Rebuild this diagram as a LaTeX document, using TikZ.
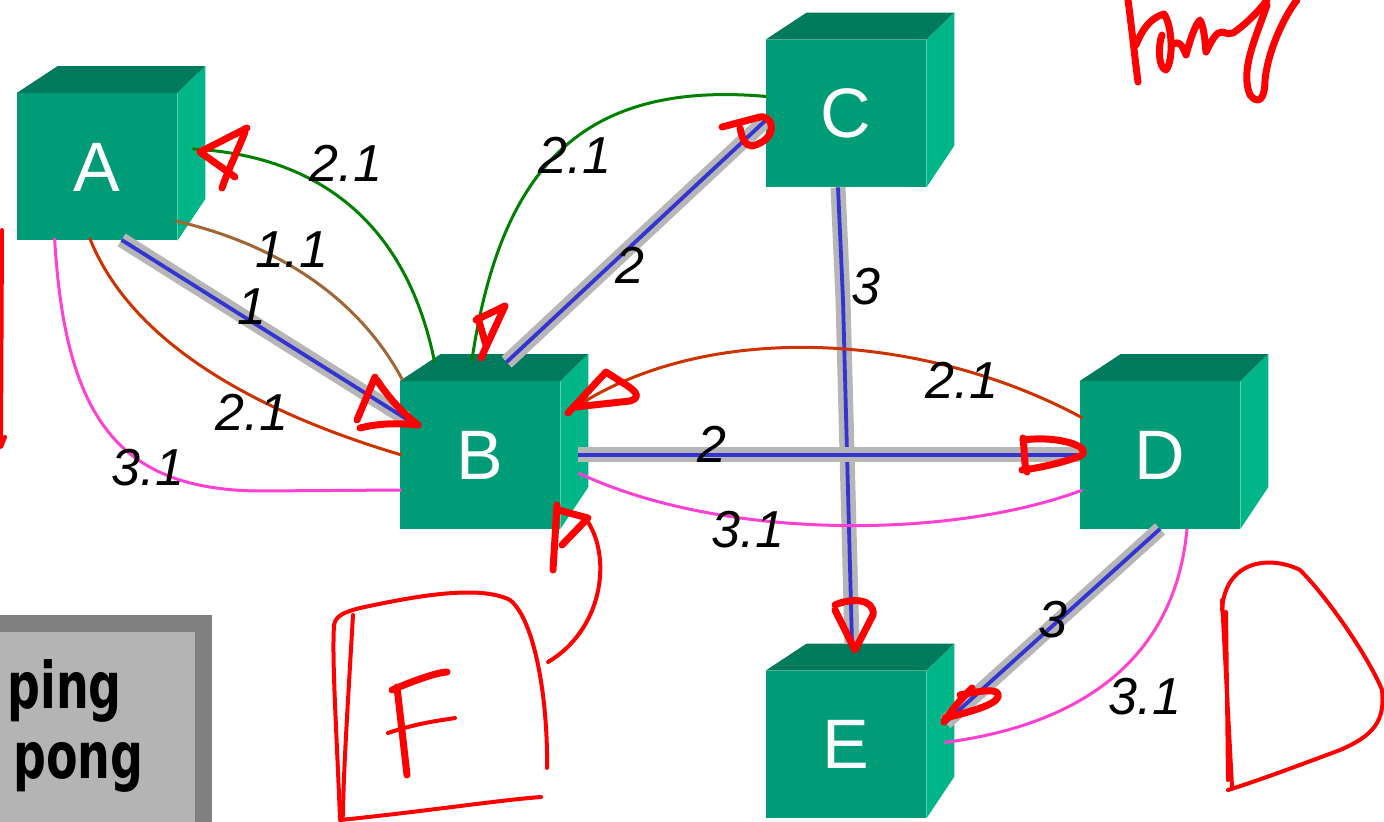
\documentclass[tikz,border=0pt]{standalone}
\usepackage{fontspec}
\setmainfont{Liberation Sans}
\newfontfamily\djv{DejaVu Sans}
\usetikzlibrary{calc}
\definecolor{cubefront}{RGB}{0,155,119}
\definecolor{cubetop}{RGB}{0,122,92}
\definecolor{cuberight}{RGB}{0,181,136}
\definecolor{halogray}{RGB}{182,182,182}
\definecolor{linkblue}{RGB}{52,52,210}
\definecolor{linkgreen}{RGB}{0,128,0}
\definecolor{linkbrown}{RGB}{160,102,52}
\definecolor{linkorange}{RGB}{204,51,0}
\definecolor{linkpink}{RGB}{255,64,210}
\definecolor{boxdark}{RGB}{128,128,128}
\definecolor{boxlight}{RGB}{180,180,180}
\definecolor{pen}{RGB}{255,0,0}
\newcommand{\cubefaces}[1]{%
  \fill[cubetop] (#1.north west) -- ($(#1.north west)+(41,-27)$) -- ($(#1.north east)+(28,-27)$) -- (#1.north east) -- cycle;
  \fill[cuberight] (#1.north east) -- ($(#1.north east)+(28,-27)$) -- ($(#1.south east)+(28,-42)$) -- (#1.south east) -- cycle;}
\begin{document}
\begin{tikzpicture}[x=0.5pt,y=-0.5pt,
  cube/.style={rectangle, fill=cubefront, minimum width=80pt, minimum height=73.5pt, inner sep=0pt, text=white, font=\fontsize{35}{35}\selectfont},
  lbl/.style={inner sep=0pt, font=\fontsize{26}{26}\selectfont\itshape},
  bluelink/.style={draw=linkblue, line width=1.9pt, preaction={draw=halogray, line width=7.5pt}},
  thin/.style={line width=1.5pt},
  redpen/.style={draw=pen, line width=3.5pt, line cap=round, line join=round},
  redthin/.style={draw=pen, line width=2pt, line cap=round, line join=round},
  pp/.style={inner sep=0pt, anchor=base west, font=\djv\bfseries\fontsize{23}{23}\selectfont}]
\useasboundingbox (0,0) rectangle (1384,822);
\fill[white] (0,0) rectangle (1384,822);

% legend box
\fill[boxdark] (0,615) rectangle (212,822);
\fill[boxlight] (0,632) rectangle (195,822);
\node[pp] (ping) at (7,708) {\scalebox{1}[1.4]{ping}};
\node[pp] (pong) at (13,778) {\scalebox{1}[1.4]{pong}};

% cubes
\node[cube] (A) at (97,167) {A};
\node[cube] (B) at (480,455) {B};
\node[cube] (C) at (846,113.5) {C};
\node[cube] (D) at (1160,455) {D};
\node[cube] (E) at (846,744.5) {E};
\cubefaces{A}\cubefaces{B}\cubefaces{C}\cubefaces{D}\cubefaces{E}

% blue links
\draw[bluelink] ($(A.south west)+(105,-1)$) -- ($(B.north west)+(7,38)$);
\draw[bluelink] ($(B.north west)+(107,-19)$) -- ($(C.west)+(2,5)$);
\draw[bluelink] ($(C.south)+(-8,0)$) -- (843,300) -- ($(E.north)+(6,-27)$);
\draw[bluelink] ($(B.east)+(18,0)$) -- (D.west);
\draw[bluelink] (D.south) -- ($(E.east)+(19,-22)$);

% thin links
\draw[linkgreen,thin] ($(A.east)+(15,-18)$) .. controls (310,155) and (405,215) .. ($(B.north west)+(35,-19)$);
\draw[linkgreen,thin] ($(C.west)+(1,-17)$) .. controls (580,80) and (500,170) .. ($(B.north west)+(72,-19)$);
\draw[linkbrown,thin] ($(A.south east)+(-2,-20)$) .. controls (280,245) and (360,300) .. ($(B.north west)+(3,-1)$);
\draw[linkorange,thin] ($(A.south west)+(73,-3)$) .. controls (130,340) and (250,410) .. ($(B.west)+(2,0)$);
\draw[linkpink,thin] ($(A.south west)+(38,-3)$) .. controls (65,420) and (120,490) .. (260,491) -- ($(B.west)+(2,35)$);
\draw[linkorange,thin] ($(D.west)+(3,-37)$) .. controls (920,330) and (700,320) .. ($(B.east)+(8,-43)$);
\draw[linkpink,thin] ($(B.east)+(18,18)$) .. controls (720,540) and (950,540) .. ($(D.west)+(3,35)$);
\draw[linkpink,thin] ($(D.south)+(27,0)$) .. controls (1175,660) and (1080,725) .. ($(E.east)+(18,-2)$);

% labels
\node[lbl] (l1) at (346,163) {2.1};
\node[lbl] (l2) at (292,250) {1.1};
\node[lbl] (l3) at (252,307) {1};
\node[lbl] (l4) at (575,155) {2.1};
\node[lbl] (l5) at (630,265) {2};
\node[lbl] (l6) at (866,287) {3};
\node[lbl] (l7) at (962,380) {2.1};
\node[lbl] (l8) at (712,444) {2};
\node[lbl] (l9) at (252,412) {2.1};
\node[lbl] (l10) at (148,468) {3.1};
\node[lbl] (l11) at (748,530) {3.1};
\node[lbl] (l12) at (1053,620) {3};
\node[lbl] (l13) at (1145,697) {3.1};

% red hand annotations
\draw[redthin] (2,230) -- (1,447) -- (5,437);
\draw[redpen] (247,128) -- (200,152) -- (235,177);
\draw[redpen] (245,132) .. controls (238,150) and (228,170) .. (222,188);
\draw[redpen] (476,320) -- (505,306) -- (481,358);
\draw[redpen] (478,318) -- (486,345);
\draw[redpen] (722,127) -- (760,117) .. controls (775,115) and (778,140) .. (752,146) .. controls (745,146) and (742,138) .. (740,128);
\draw[redpen] (375,377) -- (357,420);
\draw[redpen] (360,428) .. controls (380,423) and (400,423) .. (418,425);
\draw[redpen] (377,380) .. controls (390,400) and (405,415) .. (418,425);
\draw[redpen] (568,413) -- (606,372) .. controls (625,385) and (648,395) .. (630,401) -- (575,407);
\draw[redpen] (557,505) -- (553,570);
\draw[redpen] (558,510) -- (588,518) -- (562,545);
\draw[redthin] (588,522) .. controls (612,560) and (602,630) .. (548,662);
% F box
\draw[redthin] (340,818) .. controls (336,720) and (332,660) .. (334,625) .. controls (336,615) and (345,612) .. (360,608) .. controls (420,595) and (480,585) .. (510,600) .. controls (535,620) and (548,700) .. (547,768);
\draw[redthin] (340,820) .. controls (420,812) and (500,800) .. (541,797);
\draw[redthin] (353,615) .. controls (348,700) and (343,780) .. (343,816);
\draw[redpen] (397,687) -- (407,775);
\draw[redpen] (392,690) .. controls (420,678) and (440,672) .. (447,672);
\draw[redthin] (388,733) .. controls (420,722) and (445,720) .. (455,718);
% D arrow
\draw[redpen] (1023,438) .. controls (1025,455) and (1024,465) .. (1027,472);
\draw[redpen] (1023,440) .. controls (1060,435) and (1095,448) .. (1080,456) .. controls (1065,462) and (1040,468) .. (1022,470);
% E arrows
\draw[redpen] (835,610) -- (855,650) -- (873,615) .. controls (875,598) and (850,598) .. (835,605);
\draw[redpen] (944,722) .. controls (955,705) and (965,695) .. (972,688);
\draw[redpen] (945,718) .. controls (970,712) and (995,705) .. (998,697) .. controls (1000,688) and (985,690) .. (960,695);
% D shape
\draw[redthin] (1222,600) -- (1232,787);
\draw[redthin] (1226,612) -- (1228,780);
\draw[redthin] (1222,610) .. controls (1225,560) and (1270,555) .. (1300,570) .. controls (1330,600) and (1370,660) .. (1382,690) .. controls (1385,720) and (1375,735) .. (1340,750) .. controls (1300,765) and (1260,780) .. (1228,790);
% Pong
\draw[redpen] (1128,0) .. controls (1132,30) and (1135,60) .. (1138,82);
\draw[redpen] (1136,45) .. controls (1142,30) and (1150,18) .. (1164,14) .. controls (1172,25) and (1174,60) .. (1166,70) .. controls (1158,68) and (1158,45) .. (1162,35);
\draw[redpen] (1172,45) .. controls (1180,38) and (1184,50) .. (1186,55) .. controls (1190,40) and (1195,25) .. (1200,20) .. controls (1205,30) and (1205,45) .. (1206,52) .. controls (1212,40) and (1216,32) .. (1222,32) .. controls (1228,34) and (1230,34) .. (1233,33) .. controls (1245,25) and (1260,10) .. (1267,0);
\draw[redpen] (1267,5) .. controls (1255,40) and (1240,70) .. (1250,95) .. controls (1258,105) and (1265,100) .. (1265,80) .. controls (1268,50) and (1285,15) .. (1297,0);
\end{tikzpicture}
\end{document}
